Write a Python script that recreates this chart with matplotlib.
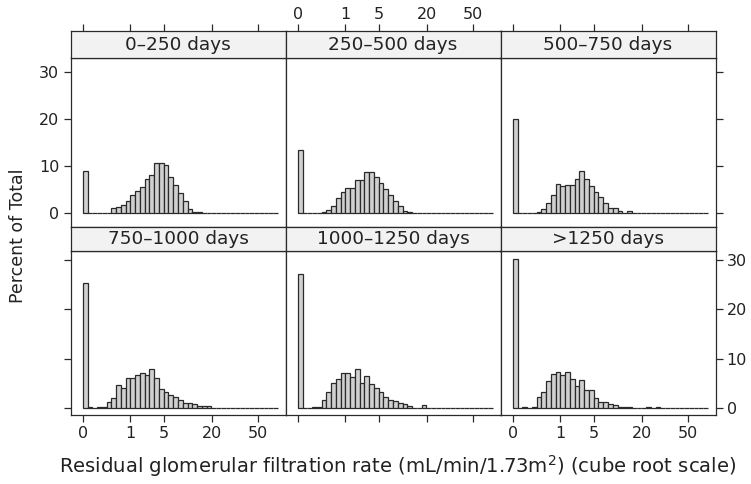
import numpy as np
import matplotlib
matplotlib.use("Agg")
import matplotlib.pyplot as plt

plt.rcParams['font.family'] = ['DejaVu Sans']
plt.rcParams['mathtext.fontset'] = 'dejavusans'

# ---------------- data (percent of total per cube-root bin) ----------------
panel_titles = ['0\u2013250 days', '250\u2013500 days', '500\u2013750 days',
                '750\u20131000 days', '1000\u20131250 days', '>1250 days']

pct_0_250 = [9.0, 0, 0, 0, 0, 0, 1.05, 1.4, 1.8, 2.5, 3.9, 4.8, 5.6, 7.2, 8.1,
             10.6, 10.6, 10.2, 7.7, 6.0, 4.2, 2.5, 0.9, 0.3, 0.3]
pct_250_500 = [13.5, 0, 0, 0, 0, 0.3, 0.7, 1.5, 3.2, 4.5, 5.4, 5.4, 7.0, 7.0, 8.7,
               8.7, 7.6, 6.5, 5.1, 3.8, 2.5, 1.6, 0.4, 0.3]
pct_500_750 = [20.0, 0, 0, 0, 0, 0.35, 0.9, 2.1, 3.9, 6.1, 5.8, 6.0, 6.0, 7.3, 9.0,
               7.3, 5.8, 4.6, 3.5, 2.1, 1.2, 1.2, 0.5, 0, 0.5]
pct_750_1000 = [25.3, 0.2, 0, 0.2, 0.2, 1.1, 2.0, 4.6, 4.0, 6.1, 6.1, 6.6, 7.0, 6.7,
                7.8, 6.1, 3.7, 3.2, 2.6, 2.1, 1.5, 1.0, 0.9, 0.7, 0.4, 0.3, 0.3]
pct_1000_1250 = [27.3, 0, 0, 0.2, 0.2, 1.6, 3.1, 5.0, 5.8, 7.1, 7.1, 6.2, 7.9, 5.1,
                 6.4, 4.8, 4.1, 3.1, 2.1, 1.6, 1.4, 0.9, 0.7, 0.3, 0, 0, 0.5]
pct_over_1250 = [30.2, 0, 0.2, 0, 0.2, 2.1, 3.2, 5.4, 6.8, 7.3, 6.7, 7.3, 5.8, 4.4,
                 5.6, 3.6, 3.5, 2.0, 1.15, 1.05, 0.75, 0.5, 0.2, 0.2, 0.2, 0, 0, 0,
                 0.2, 0, 0.2]

x_tick_values = [0, 1, 5, 20, 50]
x_tick_labels = ['0', '1', '5', '20', '50']
y_ticks = [0, 10, 20, 30]

BIN_W = 0.1      # bin width on the cube-root scale
N_BINS = 41

series = [pct_0_250, pct_250_500, pct_500_750,
          pct_750_1000, pct_1000_1250, pct_over_1250]

# ---------------- layout ----------------
W, H = 751, 484
fig = plt.figure(figsize=(W / 100, H / 100), dpi=100)

def rect(x0, y0, x1, y1):
    return [x0 / W, 1 - y1 / H, (x1 - x0) / W, (y1 - y0) / H]

col_x = [70.5, 285.5, 500.5]
col_w = 215.0
rows = [((31.5, 57.5), (57.5, 226.5)),
        ((226.5, 250.5), (250.5, 415.0))]
row_ylim = [(-2.8, 33.0), (-1.5, 32.0)]

XLIM = (-0.26, 4.26)
EDGE = '#2a2a2a'
TXT = '#222222'
FS_TICK = 11.5
FS_STRIP = 13.3

xt = np.cbrt(np.array(x_tick_values, dtype=float))
edges = np.arange(N_BINS) * BIN_W

for i, (title, vals) in enumerate(zip(panel_titles, series)):
    r, c = divmod(i, 3)
    (s0, s1), (p0, p1) = rows[r]
    x0 = col_x[c]
    ax = fig.add_axes(rect(x0, p0, x0 + col_w, p1))
    sx = fig.add_axes(rect(x0, s0, x0 + col_w, s1))

    v = np.zeros(N_BINS)
    v[:len(vals)] = vals
    ax.bar(edges, v, width=BIN_W, align='edge', color='#d0d0d0',
           edgecolor=EDGE, linewidth=0.9)
    ax.set_xlim(*XLIM)
    ax.set_ylim(*row_ylim[r])
    for sp in ax.spines.values():
        sp.set_color(EDGE)
        sp.set_linewidth(0.9)

    ax.set_xticks(xt)
    ax.set_xticklabels(x_tick_labels)
    ax.set_yticks(y_ticks)
    ax.tick_params(direction='out', length=5, width=0.9, color=EDGE,
                   labelsize=FS_TICK, labelcolor=TXT, pad=3,
                   left=(c == 0), labelleft=(c == 0 and r == 0),
                   right=(c == 2), labelright=(c == 2 and r == 1),
                   bottom=(r == 1), labelbottom=(r == 1 and c != 1),
                   top=False, labeltop=False)

    # strip
    sx.set_facecolor('#f2f2f2')
    sx.set_xlim(*XLIM)
    sx.set_ylim(0, 1)
    sx.set_yticks([])
    for sp in sx.spines.values():
        sp.set_color(EDGE)
        sp.set_linewidth(0.9)
    sx.text(0.5, 0.47, title, ha='center', va='center', fontsize=FS_STRIP,
            color=TXT, transform=sx.transAxes)
    sx.set_xticks(xt)
    sx.set_xticklabels(x_tick_labels)
    sx.tick_params(direction='out', length=5, width=0.9, color=EDGE,
                   labelsize=FS_TICK, labelcolor=TXT, pad=2,
                   bottom=False, labelbottom=False,
                   top=(r == 0), labeltop=(r == 0 and c == 1))

fig.text(18 / W, 1 - 236 / H, 'Percent of Total', rotation=90, ha='center',
         va='center', fontsize=12.5, color=TXT)
fig.text(398 / W, 1 - 466 / H,
         'Residual glomerular filtration rate (mL/min/1.73m$^2$) (cube root scale)',
         ha='center', va='center', fontsize=14.1, color=TXT)

fig.savefig('out.png', dpi=100)
